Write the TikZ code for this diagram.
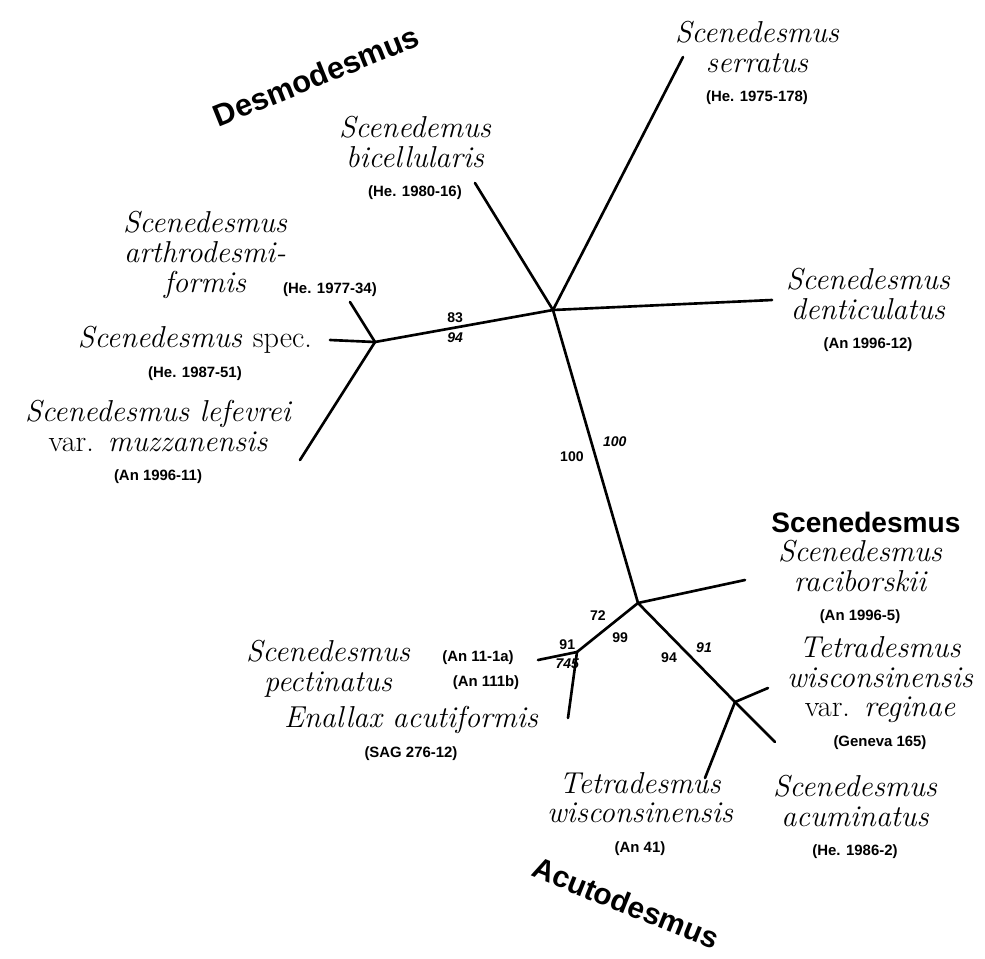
\documentclass[tikz,border=0pt]{standalone}
\usepackage{fontspec}
\setsansfont{Liberation Sans}
\newcommand{\strain}[1]{{\normalfont\sffamily\bfseries\fontsize{8.5}{9}\selectfont #1}}

\begin{document}
\begin{tikzpicture}[
    x=0.02cm, y=-0.02cm,
    branch/.style={line width=1.5pt, line cap=round},
    taxon/.style={align=center, inner sep=0pt, font=\itshape\fontsize{17.2}{17}\selectfont},
    genus/.style={inner sep=0pt, font=\sffamily\bfseries\fontsize{16}{16}\selectfont},
    boot/.style={inner sep=2pt, font=\sffamily\bfseries\fontsize{8}{8}\selectfont},
    booti/.style={boot, font=\sffamily\bfseries\itshape\fontsize{8}{8}\selectfont},
    strainlbl/.style={inner sep=0pt, font=\sffamily\bfseries\fontsize{8.5}{9}\selectfont}
]
\useasboundingbox (0,0) rectangle (985,958);

% Inner nodes of the tree
\coordinate (C) at (553,310);
\coordinate (L) at (375,342);
\coordinate (M) at (638,603);
\coordinate (P) at (577,652);
\coordinate (Q) at (735,702);

% Branch tips
\coordinate (t_serr) at (683,57);
\coordinate (t_bice) at (475,183);
\coordinate (t_dent) at (772,300);
\coordinate (t_arth) at (350,302);
\coordinate (t_spec) at (330,340);
\coordinate (t_lefe) at (300,460);
\coordinate (t_raci) at (745,580);
\coordinate (t_pect) at (538,660);
\coordinate (t_enal) at (568,718);
\coordinate (t_regi) at (768,688);
\coordinate (t_acum) at (775,742);
\coordinate (t_tetr) at (705,778);

% Group names
\node[genus, rotate=22, font=\sffamily\bfseries\fontsize{17.5}{17}\selectfont] (desmo) at (316,76) {Desmodesmus};
\node[genus] (scened) at (866,522) {Scenedesmus};
\node[genus, rotate=-22, font=\sffamily\bfseries\fontsize{17}{17}\selectfont] (acuto) at (626,903) {Acutodesmus};

% Taxa
\node[taxon] (serr) at (757,63) {Scenedesmus\\serratus\\\strain{(He. 1975-178)}};
\node[taxon] (bice) at (415,158) {Scenedemus\\bicellularis\\\strain{(He. 1980-16)}};
\node[taxon] (arth) at (205,255) {Scenedesmus\\arthrodesmi-\\formis};
\node[strainlbl] (arth_s) at (330,290) {(He. 1977-34)};
\node[taxon] (spec) at (195,353) {Scenedesmus \textup{spec.}\\\strain{(He. 1987-51)}};
\node[taxon] (lefe) at (158,442) {Scenedesmus lefevrei\\\textup{var.} muzzanensis\\\strain{(An 1996-11)}};
\node[taxon] (dent) at (868,310) {Scenedesmus\\denticulatus\\\strain{(An 1996-12)}};
\node[taxon] (raci) at (860,582) {Scenedesmus\\raciborskii\\\strain{(An 1996-5)}};
\node[taxon] (regi) at (880,693) {Tetradesmus\\wisconsinensis\\\textup{var.} reginae\\\strain{(Geneva 165)}};
\node[taxon] (acum) at (855,817) {Scenedesmus\\acuminatus\\\strain{(He. 1986-2)}};
\node[taxon] (tetr) at (640,814) {Tetradesmus\\wisconsinensis\\\strain{(An 41)}};
\node[taxon] (enal) at (411,733) {Enallax acutiformis\\\strain{(SAG 276-12)}};
\node[taxon] (pect) at (328,669) {Scenedesmus\\pectinatus};
\node[strainlbl] (pect_a) at (478,658) {(An 11-1a)};
\node[strainlbl] (pect_b) at (486,683) {(An 111b)};

% Branches
\draw[branch] (t_serr) -- (C);
\draw[branch] (t_bice) -- (C);
\draw[branch] (C) -- (t_dent);
\draw[branch] (L) -- node[boot, above, pos=0.45] {83} node[booti, below, pos=0.45] {94} (C);
\draw[branch] (t_arth) -- (L);
\draw[branch] (t_spec) -- (L);
\draw[branch] (t_lefe) -- (L);
\draw[branch] (C) -- node[boot, left=4pt, pos=0.5] {100} node[booti, right=4pt, pos=0.45] {100} (M);
\draw[branch] (M) -- (t_raci);
\draw[branch] (M) -- node[boot, above left, pos=0.45] {72} node[boot, below right, pos=0.5] {99} (P);
\draw[branch] (t_pect) -- node[boot, above, pos=0.75] {91} node[booti, below, pos=0.75] {745} (P);
\draw[branch] (P) -- (t_enal);
\draw[branch] (M) -- node[booti, above right, pos=0.55] {91} node[boot, below left, pos=0.45] {94} (Q);
\draw[branch] (Q) -- (t_regi);
\draw[branch] (Q) -- (t_acum);
\draw[branch] (Q) -- (t_tetr);

\end{tikzpicture}
\end{document}
